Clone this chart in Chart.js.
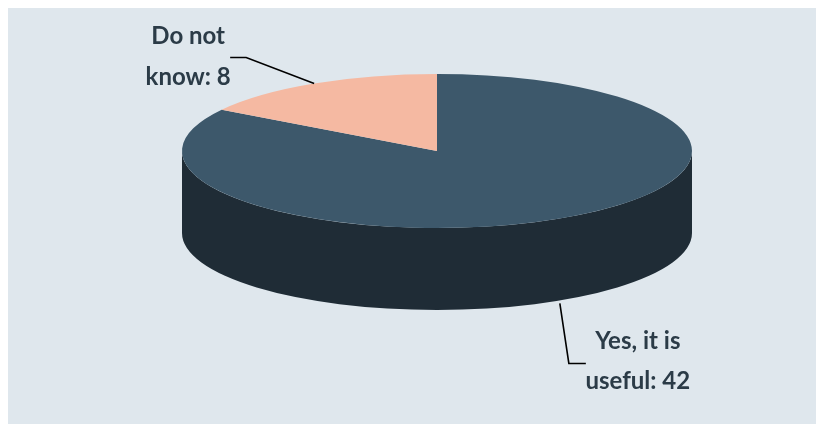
<!DOCTYPE html>
<html lang="en">
<head>
  <meta charset="UTF-8">
  <title>Is it useful?</title>
  <script src="https://cdn.jsdelivr.net/npm/chart.js"></script>
  <style>
    html, body { margin: 0; padding: 0; background: #ffffff; }
    .chart-box { position: relative; width: 816px; height: 424px; }
  </style>
</head>
<body>
<div class="chart-box"><canvas id="pieChart"></canvas></div>
<script>
  // Survey answers
  const labels = ['Yes, it is useful', 'Do not know'];
  const answers = [42, 8];
  const labelLines = [['Yes, it is', 'useful: 42'], ['Do not', 'know: 8']];

  // Colours: top face and darker side wall of each slice
  const topColors = ['#3d586b', '#f5b9a2'];
  const sideColors = ['#1f2c36', '#c48e78'];

  const TILT = 77 / 255;   // vertical squash of the pie top
  const DEPTH = 82;        // thickness of the pie in pixels

  // Where each label's leader line bends, relative to its anchor on the pie
  // side: 'bottom' = anchor on the lower rim, 'top' = on the top rim
  const labelLayout = [
    { rim: 'bottom', start: 3, bend: [9, 63], tail: 17, text: [69, -22, 18] },
    { rim: 'top', start: 0, bend: [-68, -26], tail: -16, text: [-58, -21, 20] }
  ];

  // Background panel behind the chart
  const panel = {
    id: 'panel',
    beforeDraw(chart) {
      const ctx = chart.ctx;
      ctx.save();
      ctx.fillStyle = '#dfe7ed';
      ctx.fillRect(8, 8, chart.width - 8, chart.height - 8);
      ctx.restore();
    }
  };

  // Draws the pie as a tilted disc with a side wall
  const pie3d = {
    id: 'pie3d',
    beforeDatasetsDraw(chart) {
      const ctx = chart.ctx;
      const meta = chart.getDatasetMeta(0);
      const first = meta.data[0];
      const cx = first.x, cy = first.y, r = first.outerRadius, ry = r * TILT;

      // side wall, only the front half (0..PI) shows
      meta.data.forEach((arc, i) => {
        const a0 = Math.max(arc.startAngle, 0);
        const a1 = Math.min(arc.endAngle, Math.PI);
        if (a1 <= a0) return;
        ctx.beginPath();
        ctx.ellipse(cx, cy, r, ry, 0, a0, a1);
        ctx.ellipse(cx, cy + DEPTH, r, ry, 0, a1, a0, true);
        ctx.closePath();
        ctx.fillStyle = sideColors[i];
        ctx.fill();
      });

      // top face: let the arcs draw themselves, squashed
      ctx.save();
      ctx.translate(cx, cy);
      ctx.scale(1, TILT);
      ctx.translate(-cx, -cy);
      meta.data.forEach(arc => arc.draw(ctx));
      ctx.restore();

      // labels with leader lines
      ctx.save();
      ctx.font = 'bold 24px Lato';
      ctx.fillStyle = '#2b3b47';
      ctx.textAlign = 'center';
      ctx.textBaseline = 'middle';
      ctx.strokeStyle = '#000000';
      ctx.lineWidth = 1.6;
      meta.data.forEach((arc, i) => {
        const lay = labelLayout[i];
        const mid = (arc.startAngle + arc.endAngle) / 2;
        const ax = cx + r * Math.cos(mid);
        const ay = cy + ry * Math.sin(mid) + (lay.rim === 'bottom' ? DEPTH : 0) + lay.start;
        const bx = ax + lay.bend[0], by = ay - lay.start + lay.bend[1];
        ctx.beginPath();
        ctx.moveTo(ax, ay);
        ctx.lineTo(bx, by);
        ctx.lineTo(bx + lay.tail, by);
        ctx.stroke();
        const tx = bx + lay.text[0];
        ctx.fillText(labelLines[i][0], tx, by + lay.text[1]);
        ctx.fillText(labelLines[i][1], tx, by + lay.text[2]);
      });
      ctx.restore();
      return false;
    }
  };

  new Chart(document.getElementById('pieChart'), {
    type: 'pie',
    data: {
      labels: labels,
      datasets: [{
        data: answers,
        backgroundColor: topColors,
        borderWidth: 0,
        radius: 255
      }]
    },
    options: {
      responsive: true,
      maintainAspectRatio: false,
      animation: false,
      events: [],
      layout: { padding: { left: 58, right: 0, top: 0, bottom: 122 } },
      plugins: {
        legend: { display: false },
        tooltip: { enabled: false }
      }
    },
    plugins: [panel, pie3d]
  });
</script>
</body>
</html>
